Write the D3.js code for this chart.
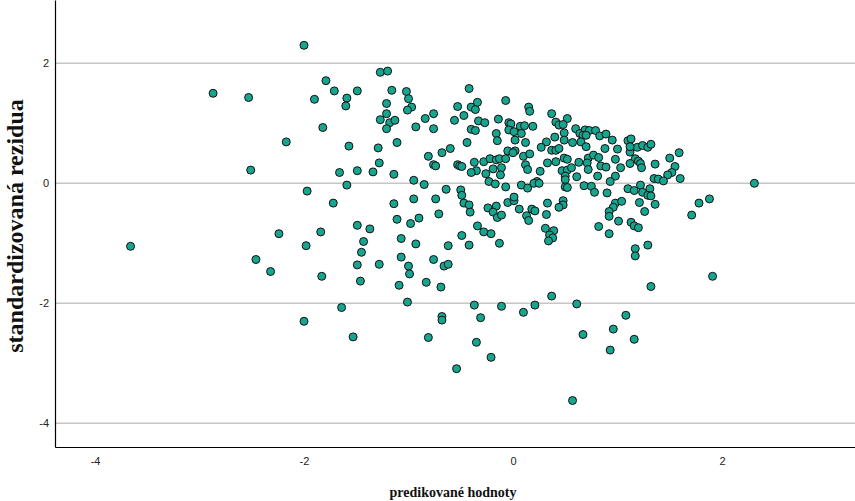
<!DOCTYPE html>
<html>
<head>
<meta charset="utf-8">
<script src="https://cdn.jsdelivr.net/npm/d3@7"></script>
<style>
  html, body { margin: 0; padding: 0; background: #fff; }
  svg { display: block; }
</style>
</head>
<body>
<svg id="chart" width="855" height="501"></svg>
<script>
// Predicted values (x) and standardized residuals (y), one entry per case
const predicted = [
  -3.66,-2.87,-2.53,-2.51,-2.46,-2.32,-2.24,-2.17,-2.00,-1.97,-1.98,-2.00,-1.90,-1.82,-1.79,-1.71,
  -1.84,-1.83,-1.72,-1.66,-1.64,-1.59,-1.60,-1.57,-1.59,-1.53,-1.49,-1.49,-1.49,-1.49,-1.46,-1.45,
  -1.43,-1.37,-1.34,-1.29,-1.28,-1.28,-1.27,-1.20,-1.27,-1.21,-1.21,-1.18,-1.13,-1.21,-1.16,-1.14,
  -1.11,-1.14,-1.11,-1.07,-1.07,-1.09,-1.02,-1.00,-0.97,-1.01,-0.93,-0.95,-0.95,-0.98,-0.90,-0.93,
  -1.00,-0.99,-1.01,-0.84,-0.81,-0.85,-0.83,-0.81,-0.76,-0.76,-0.68,-0.60,-0.76,-0.74,-0.64,-0.74,
  -0.71,-0.76,-0.66,-0.62,-0.62,-0.69,-0.68,-0.68,-0.54,-0.56,-0.53,-0.47,-0.42,-0.40,-0.36,-0.34,
  -0.33,-0.27,-0.40,-0.36,-0.44,-0.53,-0.51,-0.49,-0.37,-0.28,-0.35,-0.40,-0.26,-0.22,-0.19,-0.16,
  -0.13,-0.11,-0.12,-0.14,-0.16,-0.15,-0.07,-0.04,-0.02,-0.04,0.01,0.02,0.07,0.11,0.08,0.15,
  0.16,0.12,-0.05,0.02,0.00,-0.07,0.10,0.12,0.14,-0.23,-0.17,-0.07,0.08,0.14,-0.50,-0.49,
  -0.47,-0.42,-0.41,-0.24,-0.16,-0.19,-0.15,-0.11,-0.05,0.01,0.01,0.06,0.13,0.15,-0.34,-0.28,
  -0.21,-0.49,-0.13,-0.42,-0.37,-0.11,0.10,-0.31,-0.35,-0.21,0.19,0.37,0.41,0.44,0.52,0.48,
  0.49,0.60,0.64,0.69,0.73,0.79,0.67,0.70,0.83,0.89,0.95,0.40,0.49,0.32,0.57,0.65,
  0.70,0.27,0.37,0.41,0.44,0.88,1.00,0.16,0.49,0.63,0.72,0.77,0.82,0.71,0.41,0.33,
  0.52,0.98,0.72,0.84,0.89,0.26,0.47,0.52,0.56,0.81,0.50,0.61,0.98,0.23,0.20,0.25,
  0.93,0.50,0.68,0.75,0.50,0.52,0.78,0.90,0.33,0.48,0.48,0.44,0.18,0.21,0.32,0.98,
  0.96,0.92,0.92,1.01,0.31,0.39,0.35,0.38,0.34,0.82,0.92,0.21,0.37,0.61,0.67,0.57,
  0.96,0.93,1.08,1.16,1.10,1.13,1.12,1.19,1.24,1.29,1.32,1.12,1.17,1.20,1.22,1.12,
  1.23,1.03,1.36,1.50,1.59,1.55,1.52,1.48,1.35,1.39,1.44,1.60,1.10,1.16,1.22,1.24,
  1.31,1.29,1.32,1.04,1.21,1.36,1.26,1.13,1.16,1.20,1.78,1.88,1.71,1.29,1.17,1.17,
  1.91,1.32,2.31
];
const residuals = [
  -1.05,1.50,1.43,0.22,-1.27,-1.47,-0.84,0.69,2.30,-0.13,-1.04,-2.30,1.40,0.93,1.71,1.54,
  -0.81,-1.55,-0.33,0.18,-2.07,1.42,1.29,0.62,-0.03,-2.56,1.54,0.21,-0.70,-1.36,-1.63,-1.15,
  -0.97,-0.76,0.19,0.59,0.34,-1.35,1.85,1.87,1.06,1.16,1.33,1.01,1.05,0.91,1.55,0.15,
  0.68,-0.34,-0.60,-0.92,-1.23,-1.70,1.53,1.41,1.27,1.22,0.94,0.05,-0.26,-0.67,-0.58,-1.01,
  -1.38,-1.51,-1.98,1.08,0.45,-0.02,-1.65,-2.57,1.16,0.91,0.51,0.58,0.31,0.29,-0.10,-0.26,
  -0.51,-1.27,-1.38,-1.35,-1.04,-1.73,-2.22,-2.28,-3.09,1.05,1.28,1.13,1.58,1.27,1.23,1.35,
  1.04,1.01,0.90,0.88,0.68,0.31,0.29,0.28,0.35,0.36,0.21,0.18,0.16,0.41,0.24,0.39,
  0.41,0.26,0.14,1.07,0.83,0.71,1.38,1.01,0.99,0.89,0.86,0.72,0.95,0.96,0.83,1.27,
  1.20,0.68,0.54,0.54,0.51,0.41,0.45,0.31,0.23,0.03,-0.01,-0.06,-0.03,-0.08,-0.11,-0.20,
  -0.33,-0.36,-0.48,-0.41,-0.38,-0.48,-0.57,-0.53,-0.32,-0.29,-0.23,-0.43,-0.54,-0.62,-0.71,-0.81,
  -0.84,-0.87,-1.00,-1.03,-2.03,-2.05,-2.15,-2.24,-2.65,-2.90,0.95,1.16,1.02,0.97,1.08,0.98,
  0.84,0.91,0.83,0.89,0.88,0.88,0.80,0.80,0.79,0.82,0.72,0.77,0.72,0.69,0.68,0.69,
  0.61,0.60,0.55,0.55,0.58,0.58,0.57,0.49,0.42,0.35,0.42,0.47,0.43,0.34,0.36,0.34,
  0.40,0.40,0.23,0.29,0.27,0.20,0.21,0.22,0.26,0.12,0.12,0.11,0.12,0.03,0.00,0.00,
  0.03,0.06,-0.04,-0.05,-0.06,-0.07,-0.15,-0.16,-0.33,-0.29,-0.36,-0.40,-0.43,-0.46,-0.52,-0.33,
  -0.40,-0.47,-0.55,-0.63,-0.75,-0.79,-0.86,-0.91,-0.96,-0.72,-0.84,-2.03,-1.88,-2.01,-2.52,-3.62,
  -2.43,-2.78,-2.20,-2.60,0.71,0.74,0.52,0.60,0.63,0.60,0.65,0.61,0.41,0.37,0.33,0.33,
  0.26,0.26,0.32,0.42,0.51,0.28,0.18,0.14,0.08,0.07,0.04,0.08,-0.09,-0.12,-0.03,-0.15,
  -0.09,-0.20,-0.21,-0.30,-0.32,-0.35,-0.47,-0.65,-0.71,-0.74,-0.33,-0.26,-0.53,-1.03,-1.09,-1.21,
  -1.55,-1.72,0.00
];

// Axis ticks and titles
const xTicks = [-4, -2, 0, 2];
const yTicks = [2, 0, -2, -4];
const xTitle = "predikované hodnoty";
const yTitle = "standardizovaná rezidua";

// Visible ranges of both axes
const xDomain = [-4.383, 3.273];
const yDomain = [-4.395, 3.055];

const W = 855, H = 501;
const margin = { top: 0, right: 0, bottom: 54, left: 55 };

const svg = d3.select("#chart");

const x = d3.scaleLinear().domain(xDomain).range([margin.left, W - margin.right]);
const y = d3.scaleLinear().domain(yDomain).range([H - margin.bottom, margin.top]);

// Horizontal gridlines
svg.append("g")
  .selectAll("line")
  .data(yTicks)
  .join("line")
  .attr("x1", margin.left)
  .attr("x2", W - margin.right)
  .attr("y1", d => y(d))
  .attr("y2", d => y(d))
  .attr("stroke", "#c6c6c6")
  .attr("stroke-width", 1.5);

const tickFmt = d => (d < 0 ? "-" + Math.abs(d) : String(d));

// Bottom axis
const xAxis = svg.append("g")
  .attr("transform", `translate(0,${H - margin.bottom})`)
  .call(d3.axisBottom(x).tickValues(xTicks).tickFormat(tickFmt).tickSizeOuter(0).tickSize(0).tickPadding(10));
xAxis.select(".domain").attr("stroke", "#000").attr("stroke-width", 1.2);
xAxis.selectAll("text")
  .attr("font-family", "'Liberation Sans', Arial, sans-serif")
  .attr("font-size", 11)
  .attr("fill", "#222");

// Left axis
const yAxis = svg.append("g")
  .attr("transform", `translate(${margin.left},0)`)
  .call(d3.axisLeft(y).tickValues(yTicks).tickFormat(tickFmt).tickSizeOuter(0).tickSize(0).tickPadding(6));
yAxis.select(".domain").attr("stroke", "#000").attr("stroke-width", 1.2);
yAxis.selectAll("text")
  .attr("font-family", "'Liberation Sans', Arial, sans-serif")
  .attr("font-size", 11)
  .attr("fill", "#222");

// Points
const points = predicted.map((p, i) => ({ p, r: residuals[i] }));
svg.append("g")
  .selectAll("circle")
  .data(points)
  .join("circle")
  .attr("cx", d => x(d.p))
  .attr("cy", d => y(d.r))
  .attr("r", 4)
  .attr("fill", "#17a590")
  .attr("stroke", "#111")
  .attr("stroke-width", 1);

// Axis titles
svg.append("text")
  .attr("x", 453)
  .attr("y", 497)
  .attr("text-anchor", "middle")
  .attr("font-family", "'Liberation Serif', 'Times New Roman', serif")
  .attr("font-weight", "bold")
  .attr("font-size", 14)
  .attr("fill", "#111")
  .text(xTitle);

svg.append("text")
  .attr("transform", `translate(23,226) rotate(-90)`)
  .attr("text-anchor", "middle")
  .attr("font-family", "'Liberation Serif', 'Times New Roman', serif")
  .attr("font-weight", "bold")
  .attr("font-size", 24)
  .attr("fill", "#111")
  .text(yTitle);
</script>
</body>
</html>
